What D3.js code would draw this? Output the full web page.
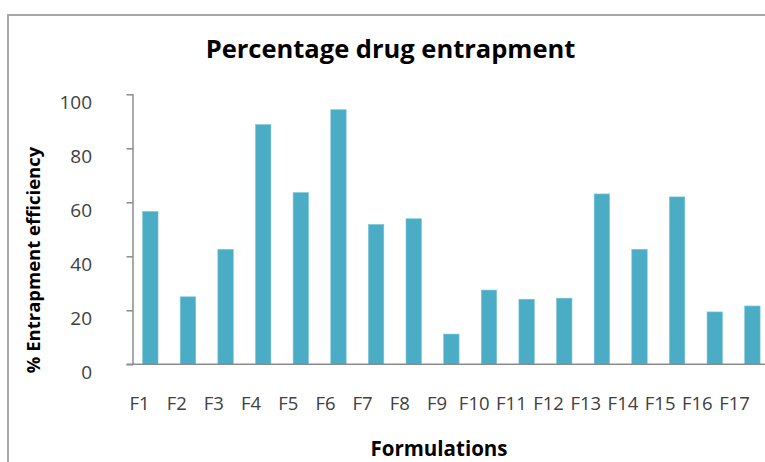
<!DOCTYPE html>
<html>
<head>
<meta charset="utf-8">
<script src="https://cdn.jsdelivr.net/npm/d3@7"></script>
<style>
  html, body { margin: 0; padding: 0; background: #fff; }
  svg { display: block; }
  text { font-family: "Open Sans", Lato, sans-serif; }
</style>
</head>
<body>
<svg id="chart" width="765" height="462"></svg>
<script>
// Formulations and their percentage entrapment efficiency
const categories = ["F1","F2","F3","F4","F5","F6","F7","F8","F9","F10","F11","F12","F13","F14","F15","F16","F17"];
const entrapment = [56.6, 25.0, 42.6, 88.8, 63.6, 94.3, 51.8, 53.9, 11.2, 27.5, 24.1, 24.5, 63.1, 42.6, 62.0, 19.4, 21.6];
const yTicks = [0, 20, 40, 60, 80, 100];

const titleText = "Percentage drug entrapment";
const xTitleText = "Formulations";
const yTitleText = "% Entrapment efficiency";

const W = 765, H = 462;
const svg = d3.select("#chart");

// Chart frame (the right and bottom edges run past the visible area)
svg.append("path")
  .attr("d", `M8,${H} L8,15 L${W},15`)
  .attr("fill", "none")
  .attr("stroke", "#a8a8a8")
  .attr("stroke-width", 2);

// Plot area
const plotLeft = 131.5, step = 37.63;
const x = d3.scaleBand()
  .domain(categories)
  .range([plotLeft, plotLeft + step * categories.length])
  .paddingInner(0.59)
  .paddingOuter(0.295);

const y = d3.scaleLinear().domain([0, 100]).range([364.3, 94.3]);

// Category label positions
const xLabel = d3.scalePoint()
  .domain(categories)
  .range([139, 734]);

// Bars
svg.append("g")
  .selectAll("rect")
  .data(categories.map((c, i) => ({ c, v: entrapment[i] })))
  .join("rect")
  .attr("x", d => x(d.c))
  .attr("width", x.bandwidth())
  .attr("y", d => y(d.v))
  .attr("height", d => y(0) - y(d.v))
  .attr("fill", "#4bacc6")
  .attr("stroke", "#7fc5d8")
  .attr("stroke-width", 0.6);

// Y axis
const yAxis = d3.axisLeft(y)
  .tickValues(yTicks)
  .tickSize(6.5)
  .tickPadding(34.5)
  .tickFormat(d3.format("d"));

const gy = svg.append("g")
  .attr("transform", "translate(133,0)")
  .call(yAxis);
gy.select(".domain").attr("stroke", "#8c8c8c").attr("stroke-width", 1.5)
  .attr("d", `M0,${y(100)}V${y(0)}`);
gy.selectAll(".tick line").attr("stroke", "#8c8c8c").attr("stroke-width", 1.5);
gy.selectAll(".tick text")
  .attr("fill", "#404040")
  .attr("font-size", 19)
  .attr("font-family", "'Open Sans', Lato, sans-serif")
  .attr("dy", "0.32em")
  .attr("y", 8);

// X axis baseline
svg.append("line")
  .attr("x1", 126.5).attr("x2", W)
  .attr("y1", y(0)).attr("y2", y(0))
  .attr("stroke", "#8c8c8c")
  .attr("stroke-width", 1.5);

// Category labels
const xAxis = d3.axisBottom(xLabel).tickSize(0).tickPadding(0);
const gx = svg.append("g")
  .attr("transform", `translate(0,${y(0)})`)
  .call(xAxis);
gx.select(".domain").remove();
gx.selectAll(".tick text")
  .attr("fill", "#404040")
  .attr("font-size", 18.5)
  .attr("font-family", "'Open Sans', Lato, sans-serif")
  .attr("dy", 0)
  .attr("y", 46);

// Titles
svg.append("text")
  .attr("x", 390.5).attr("y", 58)
  .attr("text-anchor", "middle")
  .attr("font-size", 25.5)
  .attr("font-weight", "bold")
  .attr("fill", "#000")
  .text(titleText);

svg.append("text")
  .attr("x", 439).attr("y", 456)
  .attr("text-anchor", "middle")
  .attr("font-size", 20.5)
  .attr("font-weight", "bold")
  .attr("fill", "#000")
  .text(xTitleText);

svg.append("text")
  .attr("transform", "translate(40,260) rotate(-90)")
  .attr("text-anchor", "middle")
  .attr("font-size", 18.5)
  .attr("font-weight", "bold")
  .attr("fill", "#000")
  .text(yTitleText);
</script>
</body>
</html>
